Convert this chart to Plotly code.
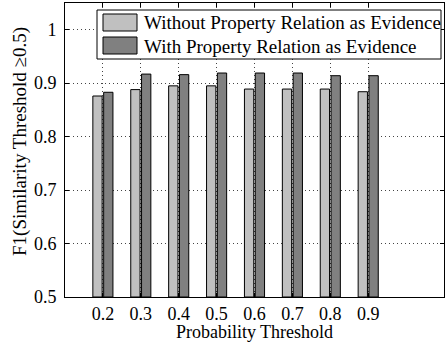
import plotly.graph_objects as go

thresholds = [0.2, 0.3, 0.4, 0.5, 0.6, 0.7, 0.8, 0.9]
without_rel = [0.876, 0.888, 0.895, 0.895, 0.889, 0.889, 0.889, 0.884]
with_rel = [0.883, 0.917, 0.916, 0.919, 0.919, 0.919, 0.914, 0.914]
series_names = ["Without Property Relation as Evidence", "With Property Relation as Evidence"]
series_colors = ["#c0c0c0", "#808080"]
x_ticktext = ["0.2", "0.3", "0.4", "0.5", "0.6", "0.7", "0.8", "0.9"]
y_tickvals = [0.5, 0.6, 0.7, 0.8, 0.9, 1.0]
y_ticktext = ["0.5", "0.6", "0.7", "0.8", "0.9", "1"]
base_value = 0.5

font_family = "Liberation Serif"
W, H = 447, 342
ML, MR, MT, MB = 65, 3, 3, 45
PW, PH = W - ML - MR, H - MT - MB


def px_x(px):
    return (px - ML) / PW


def px_y(py):
    return (H - MB - py) / PH


fig = go.Figure()
for name, vals, col in zip(series_names, [without_rel, with_rel], series_colors):
    fig.add_trace(go.Bar(
        x=thresholds, y=[v - base_value for v in vals], base=base_value,
        name=name, showlegend=False,
        marker=dict(color=col, line=dict(color="#000000", width=1)),
    ))

# custom legend (box, patches, labels)
shapes = [dict(type="rect", xref="paper", yref="paper",
               x0=px_x(97), x1=px_x(441), y0=px_y(59), y1=px_y(10),
               fillcolor="white", line=dict(color="black", width=1), layer="above")]
annotations = []
patch_rows = [(14, 31, 23), (37, 54, 46)]
for (top, bot, mid), name, col in zip(patch_rows, series_names, series_colors):
    shapes.append(dict(type="rect", xref="paper", yref="paper",
                       x0=px_x(103), x1=px_x(137), y0=px_y(bot), y1=px_y(top),
                       fillcolor=col, line=dict(color="black", width=1), layer="above"))
    annotations.append(dict(xref="paper", yref="paper", x=px_x(142), y=px_y(mid),
                            xanchor="left", yanchor="middle", showarrow=False,
                            text=name, font=dict(family=font_family, size=19, color="black")))

# y-axis title as annotation for exact placement
annotations.append(dict(xref="paper", yref="paper", x=px_x(20), y=px_y(142),
                        xanchor="center", yanchor="middle", showarrow=False, textangle=-90,
                        text="F1(Similarity Threshold \u22650.5)",
                        font=dict(family=font_family, size=19, color="black")))

fig.update_layout(
    width=W, height=H,
    margin=dict(l=ML, r=MR, t=MT, b=MB, autoexpand=False),
    paper_bgcolor="white", plot_bgcolor="white",
    barmode="group", bargap=0.43, bargroupgap=0.14,
    font=dict(family=font_family, size=18, color="black"),
    showlegend=False,
    shapes=shapes, annotations=annotations,
)
fig.update_xaxes(
    range=[0.1, 1.1], tickvals=thresholds, ticktext=x_ticktext,
    showline=True, linecolor="black", linewidth=1, mirror="ticks",
    ticks="inside", ticklen=4, tickcolor="black",
    showgrid=True, gridcolor="#444444", griddash="1px,3px", gridwidth=1,
    zeroline=False, automargin=False,
    title=dict(text="Probability Threshold", standoff=0, font=dict(size=18)),
    tickfont=dict(size=18),
)
fig.update_yaxes(
    range=[0.5, 1.05], tickvals=y_tickvals, ticktext=y_ticktext,
    showline=True, linecolor="black", linewidth=1, mirror="ticks",
    ticks="inside", ticklen=4, tickcolor="black",
    showgrid=True, gridcolor="#444444", griddash="1px,3px", gridwidth=1,
    zeroline=False, automargin=False,
    tickfont=dict(size=18), ticklabelstandoff=4,
)

fig.write_html(
    "out.html",
    config={"displayModeBar": False},
    post_script="document.body.style.margin='0';document.body.style.padding='0';document.body.style.overflow='hidden';",
)
